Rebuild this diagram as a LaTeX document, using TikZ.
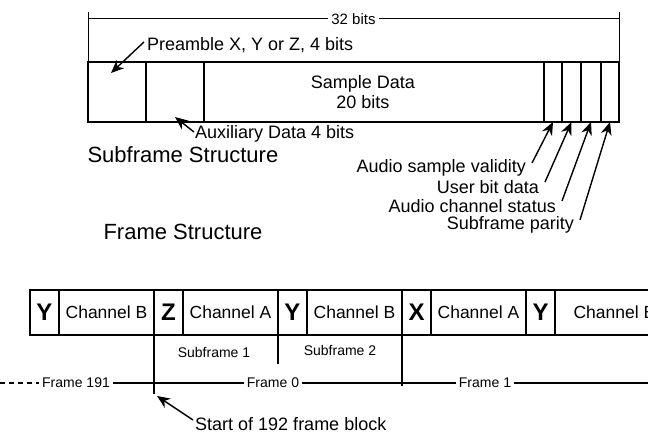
\documentclass[tikz,border=0pt]{standalone}
\usepackage{fontspec}
\setmainfont{Liberation Sans}
\usetikzlibrary{positioning,arrows.meta,calc}

\begin{document}
\begin{tikzpicture}[x=1pt, y=-1pt,
  sub/.style={draw, line width=2.4pt, outer sep=0pt, inner sep=0pt, minimum height=60pt},
  frm/.style={draw, line width=2pt, outer sep=0pt, inner sep=0pt, minimum height=45pt},
  tx/.style={font=\fontsize{18}{20}\selectfont, inner sep=1pt},
  sm/.style={font=\fontsize{14}{16}\selectfont, inner sep=3pt},
  ch/.style={font=\fontsize{17.5}{19}\selectfont},
  pr/.style={font=\fontsize{24}{26}\selectfont\bfseries},
  hd/.style={font=\fontsize{22}{24}\selectfont},
  arr/.style={-{Stealth[length=13pt, width=11pt]}, line width=1.4pt},
  ln/.style={line width=1.2pt}
]
\useasboundingbox (0,0) rectangle (648,441);

% ---- subframe : 32 bit cells ---------------------------------------------
\foreach \n/\xa/\xb in {pre/88/146, aux/146/204, smp/204/544, val/544/562,
                        usr/562/581, sta/581/601, par/601/619}
  \node[sub, minimum width={(\xb-\xa)*1pt}] (\n) at ({(\xa+\xb)/2},92) {};
\node[tx, align=center] (smptx) at (363,92) {Sample Data\\20 bits};

% dimension line
\coordinate (dl) at (88,12);
\coordinate (dr) at (619,12);
\draw[line width=1pt] (pre.north west) -- (dl);
\draw[line width=1pt] (par.north east) -- (dr);
\draw[line width=1pt] ($(dl)+(0,7)$) -- node[fill=white, font=\fontsize{15}{16}\selectfont] (bits) {32 bits} ($(dr)+(0,7)$);

% labels + arrows
\node[tx, anchor=west] (prelbl) at (146,45) {Preamble X, Y or Z, 4 bits};
\draw[arr] ([shift={(-2pt,3pt)}]prelbl.west) -- ($(pre.north west)+(23,11)$);
\node[tx, anchor=west] (auxlbl) at (194,134) {Auxiliary Data 4 bits};
\draw[arr] ([shift={(0pt,2pt)}]auxlbl.west) -- ([yshift=5pt]aux.south);

\node[tx, anchor=east] (vallbl) at (527,168) {Audio sample validity};
\node[tx, anchor=east] (usrlbl) at (540,187) {User bit data};
\node[tx, anchor=east] (stalbl) at (557,206) {Audio channel status};
\node[tx, anchor=east] (parlbl) at (575,225) {Subframe parity};
\foreach \n in {val,usr,sta,par}
  \draw[arr] ([shift={(5pt,5pt)}]\n lbl.east) -- (\n.south);

\node[hd, anchor=west] (subhd) at (84,155) {Subframe Structure};
\node[hd, anchor=west] (frmhd) at (100,232) {Frame Structure};

% ---- frame row -----------------------------------------------------------
\foreach \n/\l/\xa in {py0/Y/30, pz/Z/154, py1/Y/278, px/X/402, py2/Y/526}
  \node[frm, pr, minimum width=29pt] (\n) at (\xa+14.5,312.5) {\l};
\foreach \n/\l/\xa in {cb0/Channel B/59, ca1/Channel A/183,
                       cb1/Channel B/307, ca2/Channel A/431}
  \node[frm, ch, minimum width=95pt] (\n) at (\xa+47.5,312.5) {\l};
\node[frm, minimum width=120pt] (cb2) at (615,312.5) {};
\node[ch, anchor=west] (cb2tx) at (570,312.5) {Channel B};

% drop lines
\coordinate (zend) at (154,394);
\coordinate (sfend) at (278,364);
\coordinate (xend) at (402,386);
\draw[ln] (pz.south west) -- (zend);
\draw[ln] (py1.south west) -- (sfend);
\draw[ln] (px.south west) -- (xend);

\node[sm] (sf1) at (214,352) {Subframe 1};
\node[sm] (sf2) at (340,350) {Subframe 2};

% frame counter line
\node[sm] (f191) at (76,383) {Frame 191};
\node[sm] (f0) at (273,383) {Frame 0};
\node[sm] (f1) at (485,383) {Frame 1};
\coordinate (fl) at (0,383);
\coordinate (fr) at (648,383);
\draw[ln, dash pattern=on 5pt off 4pt] (fl) -- (f191);
\draw[ln] (f191) -- (f0);
\draw[ln] (f0) -- (f1);
\draw[ln] (f1) -- (fr);

\node[tx, anchor=west] (startlbl) at (194,424) {Start of 192 frame block};
\draw[arr] ([shift={(-1pt,4pt)}]startlbl.west) -- ([shift={(3pt,-2pt)}]zend);
\end{tikzpicture}
\end{document}
